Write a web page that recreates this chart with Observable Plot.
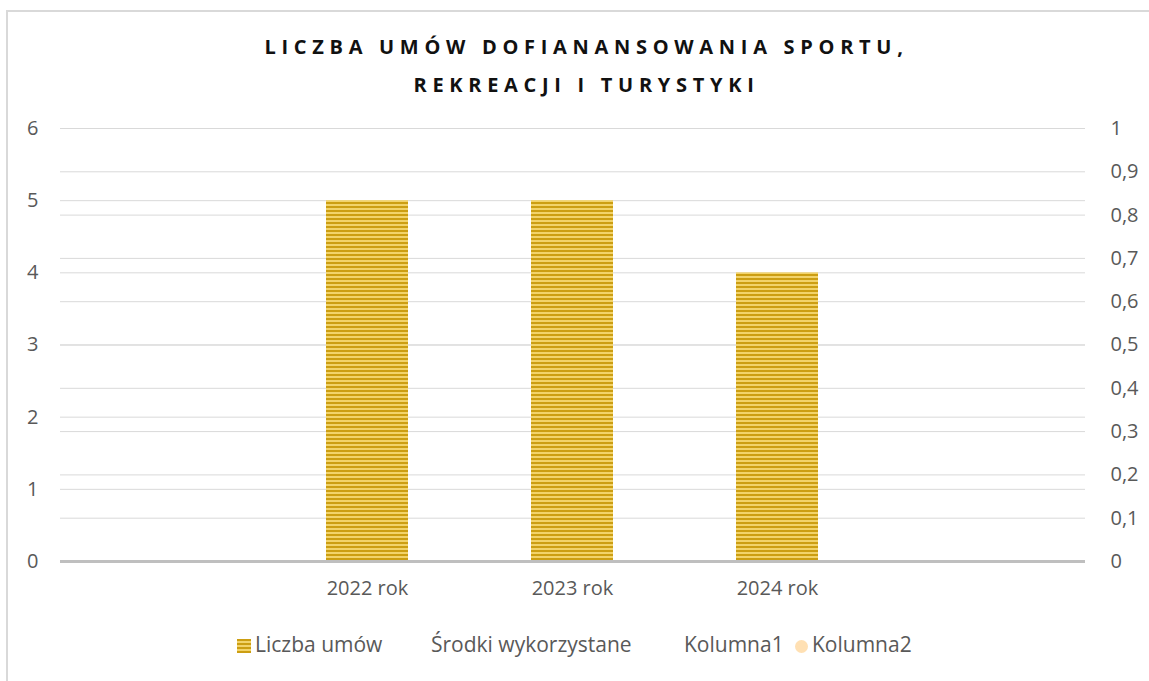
<!DOCTYPE html>
<html><head><meta charset="utf-8">
<script src="https://cdn.jsdelivr.net/npm/d3@7"></script>
<script src="https://cdn.jsdelivr.net/npm/@observablehq/plot@0.6"></script>
<style>
body{margin:0;background:#fff;font-family:"Open Sans",Lato,sans-serif;}
#wrap{position:relative;width:1149px;height:681px;overflow:hidden;background:#fff;}
#frame{position:absolute;left:6px;top:10px;width:1200px;height:720px;border:2px solid #d9d9d9;}
#title{position:absolute;left:12px;top:28px;width:1149px;text-align:center;font-weight:bold;font-size:20px;line-height:38px;letter-spacing:5.7px;color:#111;}
#chart{position:absolute;left:0;top:110px;}
.leg{position:absolute;top:630px;font-size:21px;line-height:28px;color:#595959;white-space:nowrap;}
.sw{display:inline-block;width:14px;height:14px;vertical-align:-1px;margin-right:4px;}
.sq{background:repeating-linear-gradient(180deg,#cc9e12 0 2px,#f2d36a 2px 4px);}
.ci{border-radius:50%;background:#ffe0b3;width:13px;height:13px;}
</style></head>
<body>
<div id="wrap">
  <div id="frame"></div>
  <div id="title">LICZBA UMÓW DOFIANANSOWANIA SPORTU,<br>REKREACJI I TURYSTYKI</div>
  <div id="chart"></div>
  <div class="leg" style="left:237px"><span class="sw sq"></span>Liczba umów</div>
  <div class="leg" style="left:431px">Środki wykorzystane</div>
  <div class="leg" style="left:684px">Kolumna1</div>
  <div class="leg" style="left:795px"><span class="sw ci"></span>Kolumna2</div>
</div>
<script>
// ---- data ----
const categories = ["2022 rok", "2023 rok", "2024 rok"];
const liczbaUmow = [5, 5, 4];
const srodkiWykorzystane = [];   // no visible values in the chart
const kolumna1 = [];
const kolumna2 = [];
const leftTicks = [0, 1, 2, 3, 4, 5, 6];
const leftTickLabels = ["0", "1", "2", "3", "4", "5", "6"];
const rightTicks = [0, 0.1, 0.2, 0.3, 0.4, 0.5, 0.6, 0.7, 0.8, 0.9, 1];
const rightTickLabels = ["0", "0,1", "0,2", "0,3", "0,4", "0,5", "0,6", "0,7", "0,8", "0,9", "1"];
const xDomain = ["", ...categories, " "];   // empty category slots at both ends

const data = categories.map((c, i) => ({category: c, value: liczbaUmow[i]}));
const leftMax = leftTicks[leftTicks.length - 1];
const rightMax = rightTicks[rightTicks.length - 1];
const toLeft = t => t * leftMax / rightMax;
const rightPos = rightTicks.map(toLeft);

const plot = Plot.plot({
  width: 1149, height: 500,
  marginLeft: 60, marginRight: 64, marginTop: 18, marginBottom: 49,
  style: {fontFamily: '"Open Sans", Lato, sans-serif', fontSize: "20px", color: "#595959", background: "transparent"},
  x: {domain: xDomain, paddingInner: 0.6, paddingOuter: 0.3},
  y: {domain: [0, leftMax]},
  marks: [
    Plot.gridY(leftTicks, {stroke: "#d9d9d9", strokeOpacity: 1}),
    Plot.gridY(rightPos, {stroke: "#d9d9d9", strokeOpacity: 1}),
    Plot.barY(data, {x: "category", y: "value", fill: "url(#stripes)"}),
    Plot.ruleY([0], {stroke: "#bfbfbf", strokeWidth: 3}),
    Plot.axisY(leftTicks, {anchor: "left", tickSize: 0, tickPadding: 22, label: null,
      tickFormat: d => leftTickLabels[leftTicks.indexOf(d)]}),
    Plot.axisY(rightPos, {anchor: "right", tickSize: 0, tickPadding: 25, label: null,
      tickFormat: d => rightTickLabels[rightPos.findIndex(p => Math.abs(p - d) < 1e-9)]}),
    Plot.axisX({tickSize: 0, tickPadding: 19, label: null})
  ]
});

const svg = d3.select(plot);
const defs = svg.insert("defs", ":first-child");
const pat = defs.append("pattern").attr("id", "stripes")
  .attr("patternUnits", "userSpaceOnUse").attr("width", 8).attr("height", 4);
pat.append("rect").attr("width", 8).attr("height", 4).attr("fill", "#f2d36a");
pat.append("rect").attr("width", 8).attr("height", 2).attr("fill", "#cc9e12");

document.getElementById("chart").appendChild(plot);
</script>
</body></html>
